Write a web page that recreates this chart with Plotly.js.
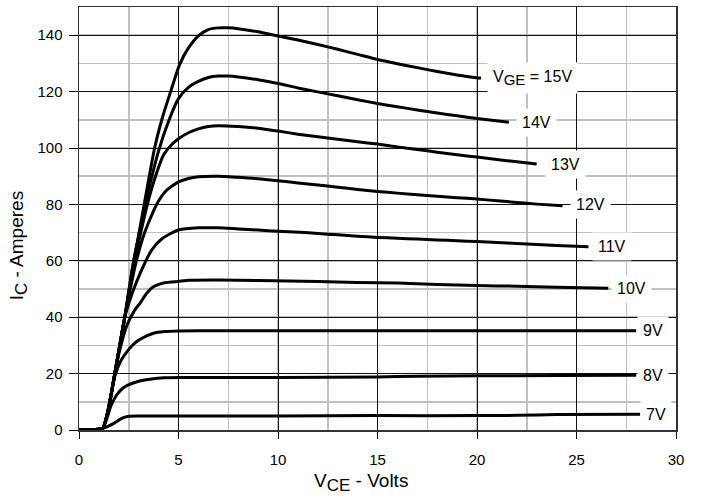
<!DOCTYPE html>
<html>
<head>
<meta charset="utf-8">
<script src="https://cdn.plot.ly/plotly-3.0.1.min.js"></script>
<style>html,body{margin:0;padding:0;background:#fff;}#chart{width:702px;height:498px;}</style>
</head>
<body>
<div id="chart"></div>
<script>
// Gate voltage series labels
const gateLabels = ["V<sub><span style=\"font-size:15px\">GE</span></sub> = 15V", "14V", "13V", "12V", "11V", "10V", "9V", "8V", "7V"];

// V_CE (Volts) and I_C (Amperes) per gate voltage
const vce15 = [0, 0.5, 1.0, 1.2, 1.4, 1.6, 1.8, 2.0, 2.3, 2.7, 3.0, 3.25, 3.8, 4.2, 4.65, 5.05, 5.5, 6.0, 6.5, 7.0, 7.5, 8, 9, 10, 11, 12, 13, 14, 15, 16, 17, 18, 19, 20.2];
const ic15  = [0, 0.1, 0.3, 0.6, 5, 12, 20, 28, 40, 58, 69, 79, 100, 111, 121, 129.5, 135.5, 139.8, 142, 142.6, 142.6, 142.3, 141.2, 139.7, 138.3, 136.7, 135, 133.2, 131.4, 129.9, 128.5, 127.1, 125.9, 124.7];

const vce14 = [0, 0.5, 1.0, 1.2, 1.4, 1.6, 1.8, 2.0, 2.3, 2.7, 3.3, 4.0, 4.5, 5.0, 5.5, 6.0, 6.5, 7, 7.5, 8, 9, 10, 11, 12, 13, 14, 15, 16, 17, 18, 19, 20, 21.6];
const ic14  = [0, 0.1, 0.3, 0.6, 5, 12, 20, 28, 40, 58, 79, 99, 109.5, 117.5, 121.5, 123.6, 125, 125.5, 125.5, 125.2, 124.2, 122.9, 121.3, 119.9, 118.5, 117.1, 115.8, 114.6, 113.5, 112.4, 111.4, 110.5, 109.1];

const vce13 = [0, 0.5, 1.0, 1.2, 1.4, 1.6, 1.8, 2.0, 2.3, 2.75, 3.4, 3.8, 4.25, 4.7, 5.0, 5.5, 6.0, 6.5, 7, 8, 9, 10, 11, 12, 13, 14, 15, 16, 17, 18, 19, 20, 21, 22, 23];
const ic13  = [0, 0.1, 0.3, 0.6, 5, 12, 20, 28, 40, 58, 79, 89, 97.5, 101.5, 103.3, 105.4, 106.8, 107.6, 107.9, 107.6, 107, 106, 104.9, 104, 103.1, 102.2, 101.4, 100.4, 99.5, 98.5, 97.6, 96.8, 95.9, 95.1, 94.3];

const vce12 = [0, 0.5, 1.0, 1.2, 1.4, 1.6, 1.8, 2.0, 2.3, 2.85, 3.3, 3.9, 4.4, 5.0, 5.5, 6, 7, 8, 9, 10, 11, 12, 13, 14, 15, 16, 17, 18, 19, 20, 21, 22, 23, 24.3];
const ic12  = [0, 0.1, 0.3, 0.6, 5, 12, 20, 28, 40, 59, 70, 80, 85, 88, 89.2, 89.8, 90, 89.6, 89.1, 88.4, 87.6, 86.9, 86.1, 85.3, 84.6, 84, 83.4, 82.9, 82.4, 81.9, 81.3, 80.7, 80.1, 79.5];

const vce11 = [0, 0.5, 1.0, 1.2, 1.4, 1.6, 1.8, 2.0, 2.3, 2.7, 3.1, 3.65, 4.2, 5, 6, 7, 8, 9, 10, 11.1, 12, 13, 14, 15, 16, 17, 18, 19, 20, 21, 22, 23, 24, 25.6];
const ic11  = [0, 0.1, 0.3, 0.6, 5, 12, 20, 28, 40, 49, 56, 63.8, 68, 70.9, 71.7, 71.7, 71.3, 70.9, 70.5, 70.1, 69.7, 69.2, 68.7, 68.3, 68, 67.7, 67.4, 67.1, 66.8, 66.5, 66.1, 65.8, 65.4, 65];

const vce10 = [0, 0.5, 1.0, 1.2, 1.4, 1.6, 1.8, 2.0, 2.4, 2.8, 3.07, 3.4, 3.74, 4.3, 5, 5.55, 7, 9, 12, 14, 16, 18, 20, 22, 24, 26.6];
const ic10  = [0, 0.1, 0.3, 0.6, 5, 12, 20, 27, 37, 42.5, 45, 48.5, 50.8, 52.2, 52.7, 53.1, 53.2, 53, 52.7, 52.3, 52.1, 51.6, 51.2, 51, 50.6, 50.3];

const vce9 = [0, 0.5, 1.0, 1.2, 1.4, 1.6, 1.8, 2.1, 2.48, 2.8, 3.07, 3.74, 4.3, 5, 7, 10, 15, 20, 25, 28];
const ic9  = [0, 0.1, 0.3, 0.6, 5, 12, 19, 24.5, 28.4, 30.8, 32.2, 34.3, 34.9, 35.1, 35.2, 35.2, 35.2, 35.2, 35.2, 35.2];

const vce8 = [0, 0.5, 1.0, 1.2, 1.4, 1.6, 1.9, 2.2, 2.48, 3.0, 3.57, 4.3, 5, 10, 15, 17, 20, 24, 28];
const ic8  = [0, 0.1, 0.3, 0.6, 4, 8.5, 12.5, 14.8, 16, 17.3, 18, 18.5, 18.6, 18.6, 18.8, 19.1, 19.2, 19.3, 19.4];

const vce7 = [0, 0.5, 1.0, 1.2, 1.4, 1.6, 1.8, 2.0, 2.2, 2.5, 3, 5, 10, 15, 20, 22, 24, 28.2];
const ic7  = [0, 0.1, 0.3, 0.6, 1.1, 1.8, 2.6, 3.5, 4.3, 4.9, 5.0, 5.0, 5.0, 5.1, 5.1, 5.2, 5.5, 5.6];

// Label anchor positions (V, A) next to each curve end
const labelV = [22.81, 22.99, 24.47, 25.7, 26.8, 27.74, 28.82, 28.82, 29.0];
const labelI = [124.8, 109.2, 94.3, 80.0, 65.0, 50.3, 35.4, 19.3, 5.5];

// Axis ticks
const xTicks = [0, 5, 10, 15, 20, 25, 30];
const yTicks = [0, 20, 40, 60, 80, 100, 120, 140];

const seriesV = [vce15, vce14, vce13, vce12, vce11, vce10, vce9, vce8, vce7];
const seriesI = [ic15, ic14, ic13, ic12, ic11, ic10, ic9, ic8, ic7];

const FONT = "Arial, 'Liberation Sans', sans-serif";

const traces = seriesV.map((v, k) => ({
  x: v, y: seriesI[k], type: 'scatter', mode: 'lines',
  line: {color: '#000', width: 3, shape: 'spline', smoothing: 0.6},
  name: gateLabels[k], hoverinfo: 'skip', showlegend: false
}));

const annotations = gateLabels.map((t, k) => ({
  x: labelV[k], y: labelI[k], xref: 'x', yref: 'y', text: t,
  showarrow: false, xanchor: 'center', yanchor: 'middle',
  bgcolor: '#ffffff', borderpad: 5,
  font: {family: FONT, size: 16, color: '#000'}
}));

annotations.push({
  xref: 'paper', yref: 'paper', x: 0.472, y: -0.125, xanchor: 'center', yanchor: 'middle',
  text: 'V<sub><span style="font-size:17px">CE</span></sub> - Volts', showarrow: false,
  font: {family: FONT, size: 19, color: '#000'}
});
annotations.push({
  xref: 'paper', yref: 'paper', x: -0.1, y: 0.435, xanchor: 'center', yanchor: 'middle',
  text: 'I<sub><span style="font-size:17px">C</span></sub> - Amperes', showarrow: false, textangle: -90,
  font: {family: FONT, size: 19, color: '#000'}
});

const layout = {
  width: 702, height: 498,
  margin: {l: 79, r: 26, t: 7, b: 68},
  paper_bgcolor: '#fff', plot_bgcolor: '#fff',
  font: {family: FONT, size: 15, color: '#000'},
  showlegend: false,
  xaxis: {
    range: [0, 30], tickvals: xTicks, ticktext: xTicks.map(String),
    ticks: 'outside', ticklen: 7, tickcolor: '#000', tickwidth: 1,
    ticklabelstandoff: 8,
    showline: true, linecolor: '#333', linewidth: 1.5, mirror: true,
    showgrid: true, gridcolor: '#111', gridwidth: 1,
    minor: {dtick: 2.5, showgrid: true, gridcolor: '#c0c0c0', gridwidth: 1.5, ticks: ''},
    zeroline: false, fixedrange: true,
    tickfont: {family: FONT, size: 15, color: '#000'}
  },
  yaxis: {
    range: [0, 150], tickvals: yTicks, ticktext: yTicks.map(String),
    ticks: 'outside', ticklen: 9, tickcolor: '#000', tickwidth: 1,
    ticklabelstandoff: 3,
    showline: true, linecolor: '#333', linewidth: 1.5, mirror: true,
    showgrid: true, gridcolor: '#111', gridwidth: 1,
    minor: {dtick: 10, showgrid: true, gridcolor: '#c0c0c0', gridwidth: 1.5, ticks: ''},
    zeroline: false, fixedrange: true,
    tickfont: {family: FONT, size: 15, color: '#000'}
  },
  annotations: annotations
};

Plotly.newPlot('chart', traces, layout, {staticPlot: true, displayModeBar: false});
</script>
</body>
</html>
